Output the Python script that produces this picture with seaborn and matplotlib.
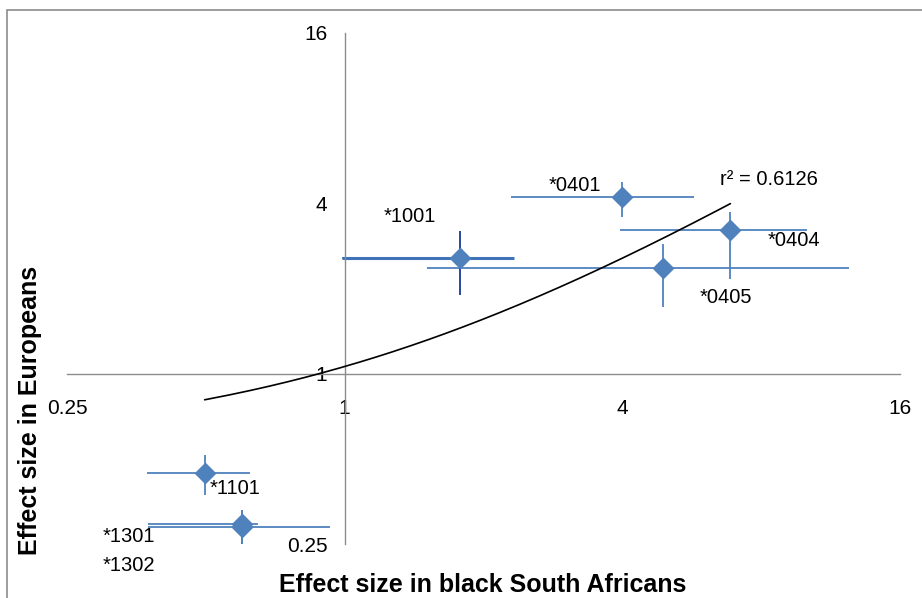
import matplotlib
matplotlib.use("Agg")
import matplotlib.pyplot as plt
import matplotlib.patches as mpatches
import seaborn as sns
import numpy as np
import pandas as pd

# allele data (odds ratios with 95% CI)
alleles = ["*1001", "*0401", "*0404", "*0405", "*1101", "*1301", "*1302"]
or_saf = [1.78, 4.0, 6.86, 4.91, 0.497, 0.598, 0.598]
saf_lo = [0.985, 2.29, 3.96, 1.51, 0.373, 0.374, 0.374]
saf_hi = [2.33, 5.73, 10.06, 12.4, 0.623, 0.648, 0.928]
or_eur = [2.57, 4.21, 3.22, 2.37, 0.447, 0.294, 0.286]
eur_lo = [1.90, 3.58, 2.16, 1.72, 0.371, 0.249, 0.249]
eur_hi = [3.20, 4.76, 3.73, 2.88, 0.514, 0.331, 0.331]

# label offsets (pixels) from each point
lab_dx = [-50, -47, 64, 62, 30, -113, -113]
lab_dy = [41, 12, -11, -30, -16, -12, -38]

# linear trendline
trend_slope = 0.5
trend_intercept = 0.56
r2_text = "r² = 0.6126"

ticks = [0.25, 1, 4, 16]
tick_labels = ["0.25", "1", "4", "16"]

df = pd.DataFrame({"allele": alleles, "saf": or_saf, "eur": or_eur})

sns.set_style("white")
plt.rcParams["font.family"] = ["Liberation Sans", "DejaVu Sans"]
plt.rcParams["text.color"] = "black"
plt.rcParams["xtick.color"] = "black"
plt.rcParams["ytick.color"] = "black"
plt.rcParams["axes.labelcolor"] = "black"

fig = plt.figure(figsize=(9.22, 5.98), dpi=100)
ax = fig.add_axes([67 / 922, 1 - 544 / 598, 833 / 922, 511 / 598])

blue = "#4F81BD"
ax.set_xscale("log", base=2)
ax.set_yscale("log", base=2)
ax.set_xlim(0.25, 16)
ax.set_ylim(0.25, 16)

# error bars
ax.hlines(or_eur, saf_lo, saf_hi, color=blue, lw=1.3, zorder=2)
ax.vlines(or_saf, eur_lo, eur_hi, color=blue, lw=1.3, zorder=2)
# *1001 bars drawn a bit heavier as in the original
ax.hlines(or_eur[0], saf_lo[0], saf_hi[0], color="#3F73B8", lw=2.2, zorder=2)
ax.vlines(or_saf[0], eur_lo[0], eur_hi[0], color="#2E4A9A", lw=1.4, zorder=2)

sns.scatterplot(data=df, x="saf", y="eur", marker="D", s=125, color=blue,
                edgecolor=blue, linewidth=0, ax=ax, zorder=3)

# trendline
xt = np.linspace(min(or_saf), max(or_saf), 200)
ax.plot(xt, trend_intercept + trend_slope * xt, color="black", lw=1.2, zorder=4)
ax.annotate(r2_text, (xt[-1], trend_intercept + trend_slope * xt[-1]),
            xytext=(39, 24), textcoords="offset pixels", ha="center", va="center",
            fontsize=14.5)

for i, name in enumerate(alleles):
    ax.annotate(name, (or_saf[i], or_eur[i]), xytext=(lab_dx[i], lab_dy[i]),
                textcoords="offset pixels", ha="center", va="center", fontsize=14.5)

# axes crossing at (1, 1)
for side in ["top", "right"]:
    ax.spines[side].set_visible(False)
ax.spines["left"].set_position(("data", 1))
ax.spines["bottom"].set_position(("data", 1))
for side in ["left", "bottom"]:
    ax.spines[side].set_color("#8C8C8C")
    ax.spines[side].set_linewidth(1.0)

ax.set_xticks(ticks)
ax.set_xticklabels(tick_labels)
ax.set_yticks(ticks)
ax.set_yticklabels(tick_labels)
ax.minorticks_off()
ax.tick_params(axis="x", direction="out", length=4.5, width=1, color="#8C8C8C",
               labelsize=15, pad=14)
ax.tick_params(axis="y", direction="out", length=4.5, width=1, color="#8C8C8C",
               labelsize=15, pad=8)
ax.grid(False)

ax.set_xlabel("Effect size in black South Africans", fontsize=18, fontweight="bold")
ax.set_ylabel("Effect size in Europeans", fontsize=18, fontweight="bold")
ax.xaxis.set_label_coords(0.499, -0.080)
ax.xaxis.label.set_verticalalignment("center")
ax.yaxis.set_label_coords(-0.044, 0.262)
ax.yaxis.label.set_verticalalignment("center")

# chart area frame (only top and left visible in the crop)
fig.add_artist(mpatches.Rectangle((7 / 922, -0.1), 1.2, 1.1 - 10 / 598,
                                  transform=fig.transFigure, fill=False,
                                  edgecolor="#8C8C8C", lw=1.2))

fig.savefig("out.png", dpi=100)
